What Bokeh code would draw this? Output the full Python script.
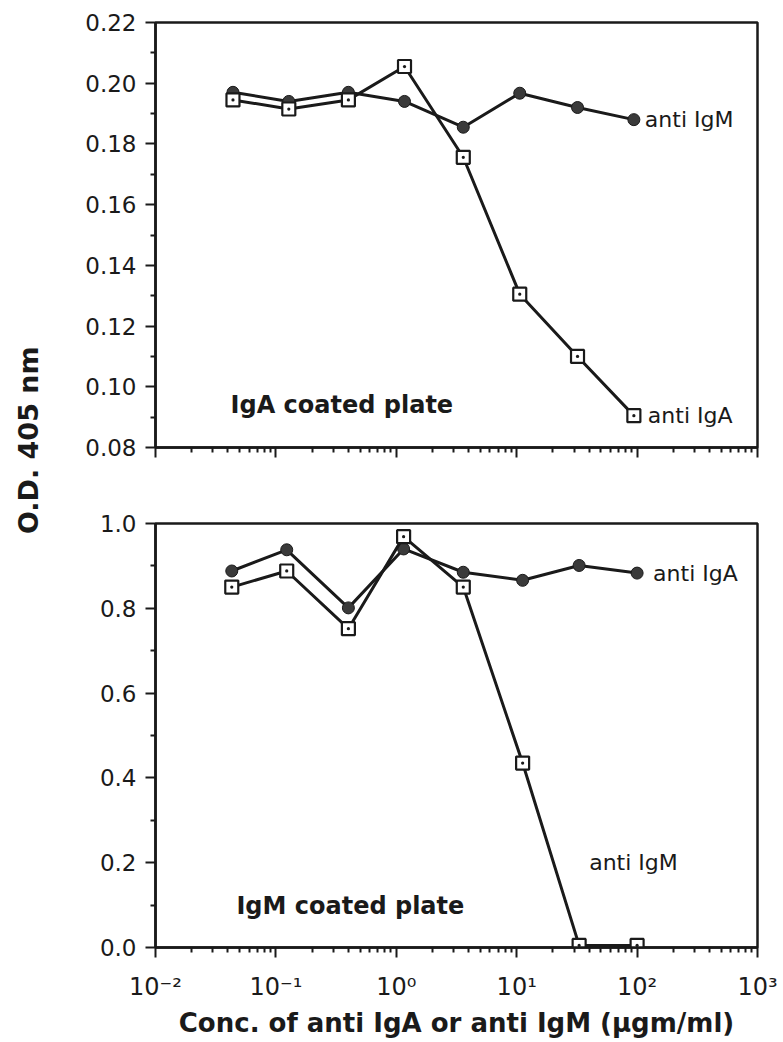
import math
from bokeh.plotting import figure
from bokeh.layouts import column, row
from bokeh.models import FixedTicker, Label, NumeralTickFormatter, Range1d
from bokeh.embed import file_html
from bokeh.resources import INLINE

# ---------------- data ----------------
conc_top = [0.044, 0.128, 0.40, 1.17, 3.6, 10.6, 32, 94]
top_anti_igm = [0.197, 0.194, 0.197, 0.194, 0.1855, 0.1967, 0.192, 0.188]
top_anti_iga = [0.1945, 0.1915, 0.1945, 0.2055, 0.1756, 0.1305, 0.110, 0.0905]

conc_bot = [0.043, 0.123, 0.40, 1.15, 3.6, 11.2, 33, 100]
bot_anti_iga = [0.888, 0.938, 0.801, 0.940, 0.885, 0.866, 0.901, 0.883]
bot_anti_igm = [0.850, 0.888, 0.752, 0.969, 0.850, 0.435, 0.005, 0.005]

x_major = [0.01, 0.1, 1, 10, 100, 1000]
x_labels = {0.01: "10\u207b\u00b2", 0.1: "10\u207b\u00b9", 1: "10\u2070",
            10: "10\u00b9", 100: "10\u00b2", 1000: "10\u00b3"}
y_top_major = [0.08, 0.10, 0.12, 0.14, 0.16, 0.18, 0.20, 0.22]
y_top_minor = [0.09, 0.11, 0.13, 0.15, 0.17, 0.19, 0.21]
y_bot_major = [0.0, 0.2, 0.4, 0.6, 0.8, 1.0]
y_bot_minor = [0.1, 0.3, 0.5, 0.7, 0.9]

FONT = "DejaVu Sans"
INK = "#1a1a1a"
x_minor = [k * 10 ** e for e in range(-2, 3) for k in range(2, 10)]

LAB_W = 60


def style(p, ymaj, ymin, yfmt, show_xlabels):
    p.outline_line_color = INK
    p.outline_line_width = 2.5
    p.grid.visible = False
    p.background_fill_color = "white"
    p.border_fill_color = "white"
    p.xaxis.ticker = FixedTicker(ticks=x_major, minor_ticks=x_minor)
    p.yaxis.ticker = FixedTicker(ticks=ymaj, minor_ticks=ymin)
    p.yaxis.formatter = NumeralTickFormatter(format=yfmt)
    for ax in (p.xaxis[0], p.yaxis[0]):
        ax.axis_line_width = 2.5
        ax.axis_line_color = INK
        ax.major_tick_line_width = 2
        ax.minor_tick_line_width = 2
        ax.major_tick_line_color = INK
        ax.minor_tick_line_color = INK
        ax.major_tick_in = 0
        ax.minor_tick_in = 0
        ax.major_tick_out = 10
        ax.minor_tick_out = 5
        ax.major_label_text_font = FONT
        ax.major_label_text_color = INK
        ax.major_label_text_font_size = "23px"
        ax.major_label_standoff = 9
    if show_xlabels:
        p.xaxis.major_label_overrides = x_labels
        p.xaxis.major_label_text_font_size = "24px"
        p.xaxis.major_label_standoff = 15
    else:
        p.xaxis.major_label_overrides = {k: "" for k in x_labels}


def series(p, x, y_sq, y_ci):
    p.line(x, y_ci, line_color=INK, line_width=3)
    p.scatter(x, y_ci, marker="circle", size=12, fill_color="#3a3a3a",
              line_color=INK, line_width=1)
    p.line(x, y_sq, line_color=INK, line_width=3)
    p.scatter(x, y_sq, marker="square_dot", size=13, fill_color="white",
              line_color=INK, line_width=2.2)


def txt(p, x, y, s, bold=False, size="22px", xoff=0):
    p.add_layout(Label(x=x, y=y, text=s, text_font=FONT, text_font_size=size,
                       text_font_style="bold" if bold else "normal",
                       text_color=INK, text_baseline="middle",
                       text_align="left", x_offset=xoff))


# ---------------- top panel ----------------
top = figure(width=783 - LAB_W, height=475, x_axis_type="log",
             x_range=Range1d(0.01, 1000), y_range=Range1d(0.08, 0.22),
             output_backend="svg", toolbar_location=None,
             min_border_left=155 - LAB_W, min_border_right=26,
             min_border_top=22, min_border_bottom=28)
style(top, y_top_major, y_top_minor, "0.00", False)
series(top, conc_top, top_anti_iga, top_anti_igm)
txt(top, conc_top[-1], top_anti_igm[-1], "anti IgM", xoff=11)
txt(top, conc_top[-1], top_anti_iga[-1], "anti IgA", xoff=14)
txt(top, 0.042, 0.094, "IgA coated plate", bold=True, size="24px")

# ---------------- bottom panel ----------------
bot = figure(width=783 - LAB_W, height=567, x_axis_type="log",
             x_range=Range1d(0.01, 1000), y_range=Range1d(0.0, 1.0),
             output_backend="svg", toolbar_location=None,
             min_border_left=155 - LAB_W, min_border_right=26,
             min_border_top=48, min_border_bottom=95)
style(bot, y_bot_major, y_bot_minor, "0.0", True)
series(bot, conc_bot, bot_anti_igm, bot_anti_iga)
txt(bot, conc_bot[-1], bot_anti_iga[-1], "anti IgA", xoff=16)
txt(bot, 40, 0.20, "anti IgM")
txt(bot, 0.047, 0.099, "IgM coated plate", bold=True, size="24px")
bot.xaxis.axis_label = "Conc. of anti IgA or anti IgM (\u03bcgm/ml)"
bot.xaxis.axis_label_text_font = FONT
bot.xaxis.axis_label_text_font_size = "26px"
bot.xaxis.axis_label_text_font_style = "bold"
bot.xaxis.axis_label_text_color = INK
bot.xaxis.axis_label_standoff = 4

# ---------------- shared y label ----------------
lab = figure(width=LAB_W, height=1042, x_range=Range1d(0, 1), y_range=Range1d(0, 1),
             output_backend="svg", toolbar_location=None,
             min_border_left=0, min_border_right=0, min_border_top=0,
             min_border_bottom=0)
lab.axis.visible = False
lab.grid.visible = False
lab.outline_line_color = None
lab.add_layout(Label(x=28, y=1042 - 435, x_units="screen", y_units="screen",
                     text="O.D.  405 nm", angle=math.pi / 2, text_font=FONT,
                     text_font_size="27px", text_font_style="bold",
                     text_color=INK, text_align="center", text_baseline="middle"))

layout = row(lab, column(top, bot, spacing=0), spacing=0)

open("out.html", "w").write(file_html(layout, INLINE))
